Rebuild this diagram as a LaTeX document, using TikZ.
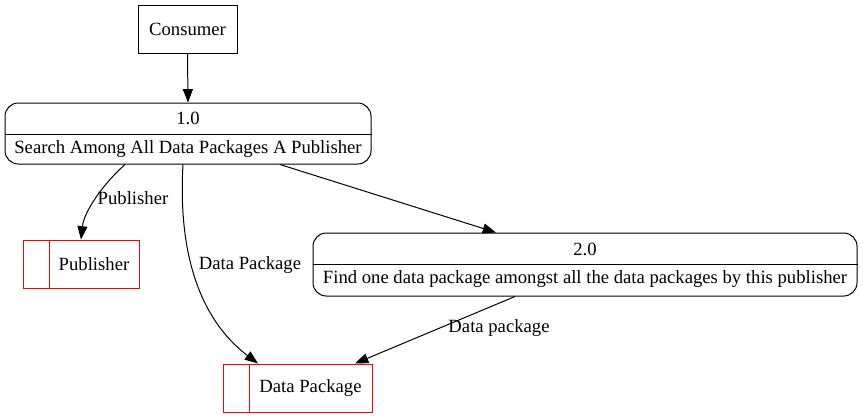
\documentclass[tikz,border=0pt]{standalone}
\usepackage{fontspec}
\setmainfont{Liberation Serif}
\usetikzlibrary{arrows.meta,calc}
\begin{document}
\begin{tikzpicture}[x=0.75pt,y=-0.75pt,
  every node/.style={font=\fontsize{14pt}{16pt}\selectfont},
  ent/.style={draw=black,line width=0.75pt,minimum width=74.25pt,minimum height=36pt,inner sep=0pt},
  proc/.style={draw=black,line width=0.75pt,rounded corners=10pt,inner sep=0pt},
  store/.style={draw=red,line width=0.75pt,inner sep=0pt},
  txt/.style={inner sep=0pt},
  flow/.style={draw=black,line width=0.75pt,-{Triangle[length=10pt,width=7.5pt]}},
  lbl/.style={inner sep=0pt}]
\useasboundingbox (0,0) rectangle (863,419);
% Consumer
\node[ent] (cons) at (187.5,29) {Consumer};
% Process 1.0
\node[proc,minimum width=274.5pt,minimum height=45.75pt] (p1) at (188,133.5) {};
\coordinate (p1d) at (188,134);
\draw[line width=0.75pt] (p1.west |- p1d) -- (p1.east |- p1d);
\node[txt] (p1a) at (188,118.5) {1.0};
\node[txt] (p1b) at (188,149) {Search Among All Data Packages A Publisher};
% Process 2.0
\node[proc,minimum width=408pt,minimum height=47.25pt] (p2) at (585,264.5) {};
\coordinate (p2d) at (585,264);
\draw[line width=0.75pt] (p2.west |- p2d) -- (p2.east |- p2d);
\node[txt] (p2a) at (585,249) {2.0};
\node[txt] (p2b) at (585,279.5) {Find one data package amongst all the data packages by this publisher};
% Publisher store
\node[store,minimum width=87pt,minimum height=36pt] (pub) at (81,264) {};
\coordinate (pubd) at (49,264);
\draw[red,line width=0.75pt] (pubd |- pub.north) -- (pubd |- pub.south);
\node[txt] (pubt) at (94,264) {Publisher};
% Data Package store
\node[store,minimum width=111.75pt,minimum height=36pt] (dp) at (297.5,388) {};
\coordinate (dpd) at (249,388);
\draw[red,line width=0.75pt] (dpd |- dp.north) -- (dpd |- dp.south);
\node[txt] (dpt) at (310.5,388) {Data Package};
% Edges
\draw[flow] (cons.south) -- (p1.north);
\draw[flow] ($(p1.south)+(-63,0)$) .. controls (102,185) and (84,212) .. (pub.north);
\node[lbl] (l1) at (133,198) {Publisher};
\draw[flow] ($(p1.south)+(-5,0)$) .. controls (178,250) and (198,318) .. ($(dp.north)+(-39.5,0)$);
\node[lbl] (l2) at (250,265) {Data Package};
\draw[flow] ($(p1.south)+(92,0)$) -- ($(p2.north)+(-89,0)$);
\draw[flow] ($(p2.south)+(-70,0)$) -- ($(dp.north)+(57.5,0)$);
\node[lbl] (l3) at (499,328) {Data package};
\end{tikzpicture}
\end{document}
